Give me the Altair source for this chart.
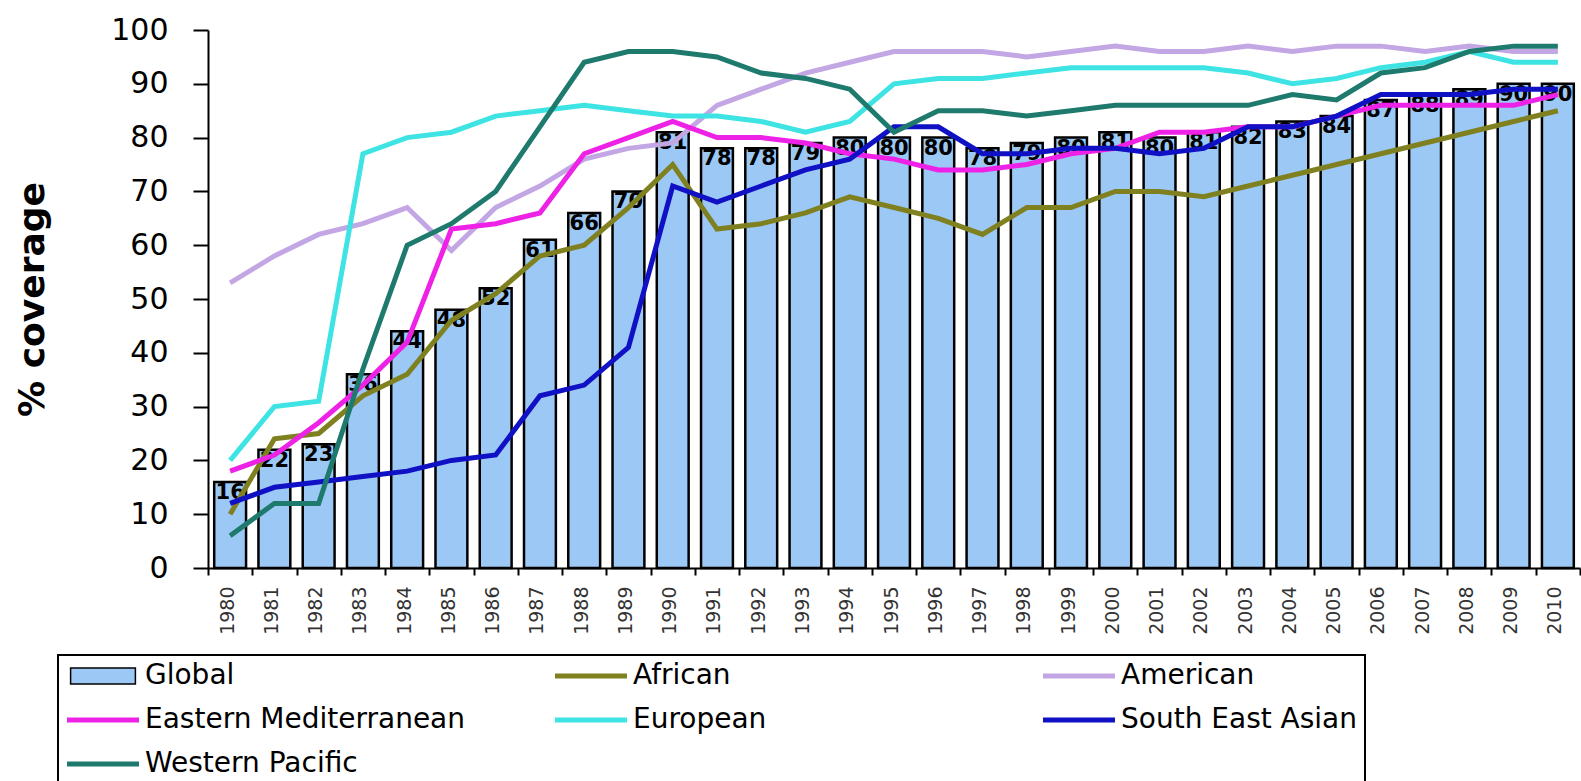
import altair as alt
import pandas as pd

# ---------------- data ----------------
years = [str(y) for y in range(1980, 2011)]

global_cov = [16, 22, 23, 36, 44, 48, 52, 61, 66, 70, 81, 78, 78, 79, 80, 80,
              80, 78, 79, 80, 81, 80, 81, 82, 83, 84, 87, 88, 89, 90, 90]

african = [10, 24, 25, 32, 36, 46, 51, 58, 60, 67, 75, 63, 64, 66, 69, 67,
           65, 62, 67, 67, 70, 70, 69, 71, 73, 75, 77, 79, 81, 83, 85]

american = [53, 58, 62, 64, 67, 59, 67, 71, 76, 78, 79, 86, 89, 92, 94, 96,
            96, 96, 95, 96, 97, 96, 96, 97, 96, 97, 97, 96, 97, 96, 96]

eastern_med = [18, 21, 27, 34, 42, 63, 64, 66, 77, 80, 83, 80, 80, 79, 77, 76,
               74, 74, 75, 77, 78, 81, 81, 82, 82, 84, 86, 86, 86, 86, 88]

european = [20, 30, 31, 77, 80, 81, 84, 85, 86, 85, 84, 84, 83, 81, 83, 90,
            91, 91, 92, 93, 93, 93, 93, 92, 90, 91, 93, 94, 96, 94, 94]

south_east_asian = [12, 15, 16, 17, 18, 20, 21, 32, 34, 41, 71, 68, 71, 74, 76, 82,
                    82, 77, 77, 78, 78, 77, 78, 82, 82, 84, 88, 88, 88, 89, 89]

western_pacific = [6, 12, 12, 37, 60, 64, 70, 82, 94, 96, 96, 95, 92, 91, 89, 81,
                   85, 85, 84, 85, 86, 86, 86, 86, 88, 87, 92, 93, 96, 97, 97]

series_names = ["Global", "African", "American", "Eastern Mediterranean",
                "European", "South East Asian", "Western Pacific"]
bar_color = "#9CC8F5"
line_colors = ["#7F8020", "#C3A6E4", "#EE22E6", "#3EE3E3", "#1010C4", "#1F7A6E"]

line_values = [african, american, eastern_med, european, south_east_asian, western_pacific]

# ---------------- tables ----------------
bars_df = pd.DataFrame({"year": years, "value": global_cov,
                        "series": ["Global"] * len(years)})
lines_df = pd.concat(
    [pd.DataFrame({"year": years, "value": vals, "series": [name] * len(years)})
     for name, vals in zip(series_names[1:], line_values)],
    ignore_index=True)

FONT = "DejaVu Sans"
LEG_X, LEG_Y, LEG_PAD = -150, 625, 7

# legend of the lines (first slot left empty for the bar entry, drawn by its own legend)
stroke_legend = alt.Legend(
    title=None, orient="none", legendX=LEG_X, legendY=LEG_Y,
    direction="horizontal", columns=3, gridAlign="all",
    columnPadding=79, rowPadding=16, padding=LEG_PAD,
    strokeColor="black",
    labelFont=FONT, labelFontSize=28, labelColor="black", labelLimit=700,
    labelExpr="datum.value == 'Global' ? '' : datum.label",
    symbolType="M-4,0H4", symbolSize=324, symbolStrokeWidth=5,
    symbolOffset=24, labelOffset=28,
)
fill_legend = alt.Legend(
    title=None, orient="none", legendX=LEG_X, legendY=LEG_Y,
    direction="horizontal", padding=LEG_PAD,
    labelFont=FONT, labelFontSize=28, labelColor="black", labelLimit=700,
    symbolType="M-3.6,-0.88H3.6V0.88H-3.6Z", symbolSize=324,
    symbolStrokeColor="black", symbolStrokeWidth=1.5,
    symbolOffset=24, labelOffset=28,
)

x_enc = alt.X(
    "year:N", sort=years,
    scale=alt.Scale(paddingInner=0, paddingOuter=0),
    axis=alt.Axis(title=None, labelAngle=-90, labelFont=FONT, labelFontSize=19,
                  labelColor="#333333", labelPadding=11, labelOffset=-3,
                  tickBand="extent", tickSize=7, tickWidth=2, tickColor="black",
                  domainColor="black", domainWidth=2),
)
y_enc = alt.Y(
    "value:Q",
    scale=alt.Scale(domain=[0, 100], nice=False),
    axis=alt.Axis(title="% coverage", values=list(range(0, 101, 10)), grid=False,
                  tickSize=15, tickWidth=2, tickColor="black",
                  domainColor="black", domainWidth=2,
                  labelFont=FONT, labelFontSize=30, labelColor="black", labelPadding=25,
                  titleFont=FONT, titleFontSize=36, titleFontWeight="bold",
                  titleColor="black", titleX=-165, titleBaseline="alphabetic"),
)

bars = alt.Chart(bars_df).mark_bar(
    stroke="black", strokeWidth=2.5, width=alt.RelativeBandSize(0.72)
).encode(
    x=x_enc, y=y_enc,
    fill=alt.Fill("series:N", scale=alt.Scale(domain=["Global"], range=[bar_color]),
                  legend=fill_legend),
)

labels = alt.Chart(bars_df).mark_text(
    font=FONT, fontSize=21, fontWeight="bold", color="black",
    baseline="middle", dy=11
).encode(x=x_enc, y=y_enc, text="value:Q")

lines = alt.Chart(lines_df).mark_line(strokeWidth=5).encode(
    x=x_enc, y=y_enc,
    stroke=alt.Stroke("series:N",
                      scale=alt.Scale(domain=series_names,
                                      range=["transparent"] + line_colors),
                      legend=stroke_legend),
)

chart = alt.layer(bars, labels, lines).properties(
    width=1372, height=538,
    padding={"left": 13, "top": 15, "right": 0, "bottom": 0},
    background="white",
).configure_view(stroke=None).configure_legend(strokeWidth=2)

chart.save("out.html", embed_options={"renderer": "svg", "actions": False})
